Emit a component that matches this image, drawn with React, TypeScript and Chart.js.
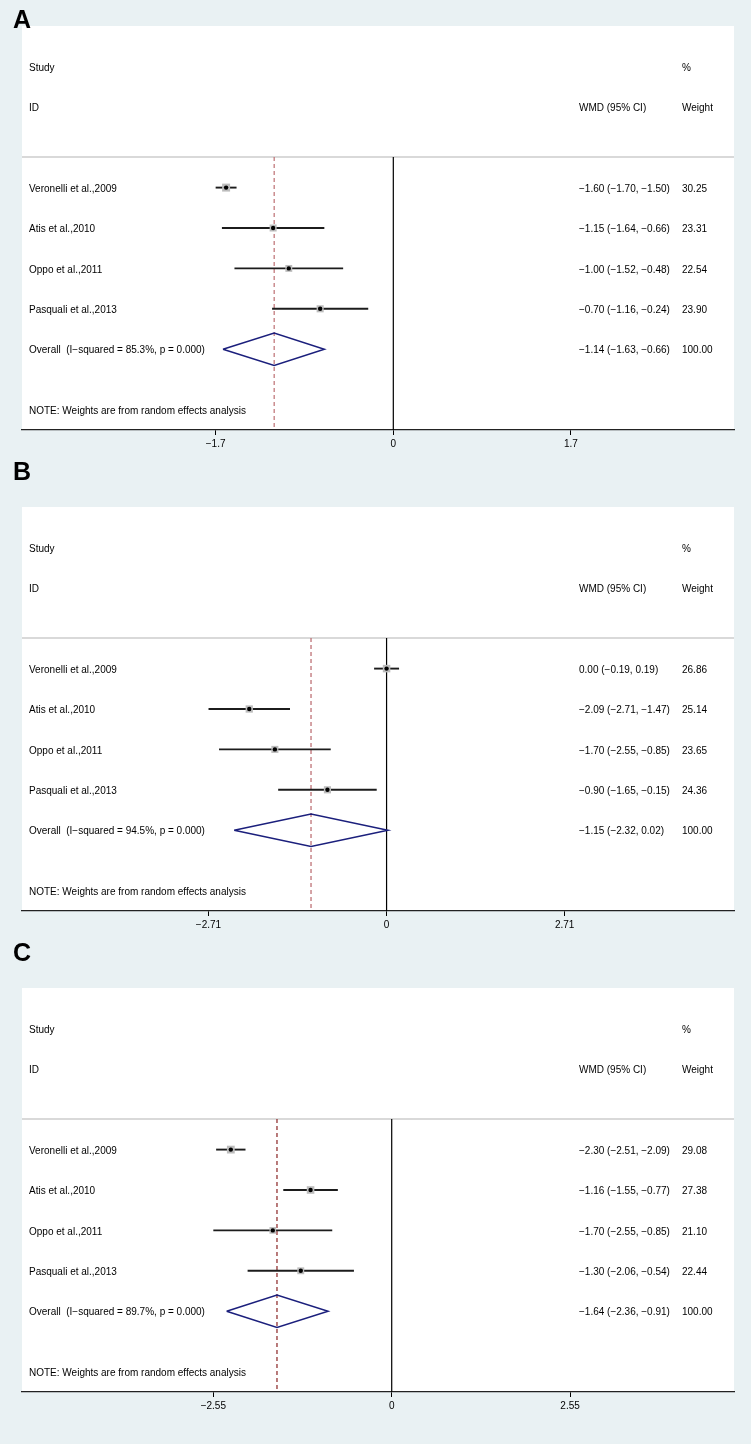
import React, { useEffect, useRef } from 'react';
import { Chart, registerables } from 'chart.js';

Chart.register(...registerables);

// ---------- Data ----------
const studies = ['Veronelli et al.,2009', 'Atis et al.,2010', 'Oppo et al.,2011', 'Pasquali et al.,2013'];

const estA = [-1.6, -1.15, -1.0, -0.7];
const lowA = [-1.7, -1.64, -1.52, -1.16];
const highA = [-1.5, -0.66, -0.48, -0.24];
const weightA = [30.25, 23.31, 22.54, 23.9];
const overallA = [-1.14, -1.63, -0.66];
const i2A = '85.3%';
const ticksA = [-1.7, 0, 1.7];

const estB = [0.0, -2.09, -1.7, -0.9];
const lowB = [-0.19, -2.71, -2.55, -1.65];
const highB = [0.19, -1.47, -0.85, -0.15];
const weightB = [26.86, 25.14, 23.65, 24.36];
const overallB = [-1.15, -2.32, 0.02];
const i2B = '94.5%';
const ticksB = [-2.71, 0, 2.71];

const estC = [-2.3, -1.16, -1.7, -1.3];
const lowC = [-2.51, -1.55, -2.55, -2.06];
const highC = [-2.09, -0.77, -0.85, -0.54];
const weightC = [29.08, 27.38, 21.1, 22.44];
const overallC = [-1.64, -2.36, -0.91];
const i2C = '89.7%';
const ticksC = [-2.55, 0, 2.55];

// ---------- Styling ----------
const BG = '#e9f1f3';
const FONT = '"Liberation Sans", Arial, Helvetica, sans-serif';
const NAVY = '#1b1f7c';
const PANEL_H = 481;

type PanelCfg = {
  letter: string;
  est: number[];
  low: number[];
  high: number[];
  weight: number[];
  overall: number[];
  i2: string;
  ticks: number[];
  xMin: number;
  xMax: number;
  dash: string;
  letterTop: number;
};

const panels: PanelCfg[] = [
  { letter: 'A', est: estA, low: lowA, high: highA, weight: weightA, overall: overallA, i2: i2A, ticks: ticksA, xMin: -3.553, xMax: 3.26, dash: '#bd6f73', letterTop: 7 },
  { letter: 'B', est: estB, low: lowB, high: highB, weight: weightB, overall: overallB, i2: i2B, ticks: ticksB, xMin: -5.549, xMax: 5.288, dash: '#b9666b', letterTop: 459 },
  { letter: 'C', est: estC, low: lowC, high: highC, weight: weightC, overall: overallC, i2: i2C, ticks: ticksC, xMin: -5.285, xMax: 4.893, dash: '#8a2323', letterTop: 940 },
];

const fmt = (v: number) => (v < 0 ? '\u2212' : '') + Math.abs(v).toFixed(2);
const tickFmt = (v: number) => (v === 0 ? '0' : (v < 0 ? '\u2212' : '') + String(Math.abs(v)));

const HEADER_ROW = 0.24;
const OVERALL_ROW = 5;
const NOTE_ROW = 6.5;
const TEXT_DY = 1.5;

function Panel({ cfg, top }: { cfg: PanelCfg; top: number }) {
  const ref = useRef<HTMLCanvasElement | null>(null);

  useEffect(() => {
    const canvas = ref.current;
    if (!canvas) return;
    const [oEst, oLo, oHi] = cfg.overall;
    const pts = cfg.est.map((e, i) => ({ x: e, y: i + 1 }));

    const datasets: any[] = [
      {
        type: 'scatter',
        data: pts,
        pointStyle: 'circle',
        pointRadius: 2.2,
        backgroundColor: '#000',
        borderWidth: 0,
        order: 0,
      },
      {
        type: 'line',
        data: [
          { x: oLo, y: OVERALL_ROW },
          { x: oEst, y: OVERALL_ROW - 0.4 },
          { x: oHi, y: OVERALL_ROW },
          { x: oEst, y: OVERALL_ROW + 0.4 },
          { x: oLo, y: OVERALL_ROW },
        ],
        borderColor: NAVY,
        borderWidth: 1.5,
        pointRadius: 0,
        fill: false,
        tension: 0,
        order: 0,
      },
      {
        type: 'scatter',
        data: pts,
        pointStyle: 'rect',
        pointRadius: cfg.weight.map((w) => (1.45 * Math.sqrt(w)) / Math.SQRT2),
        backgroundColor: '#bcbcbc',
        borderWidth: 0,
        order: 1,
      },
      ...cfg.est.map((_, i) => ({
        type: 'line',
        data: [
          { x: cfg.low[i], y: i + 1 },
          { x: cfg.high[i], y: i + 1 },
        ],
        borderColor: '#1c1c1c',
        borderWidth: 1.9,
        pointRadius: 0,
        order: 2,
      })),
      {
        type: 'line',
        data: [
          { x: oEst, y: HEADER_ROW },
          { x: oEst, y: 7 },
        ],
        borderColor: cfg.dash,
        borderWidth: 1.2,
        borderDash: [4, 3],
        pointRadius: 0,
        order: 4,
      },
      {
        type: 'line',
        data: [
          { x: 0, y: HEADER_ROW },
          { x: 0, y: 7 },
        ],
        borderColor: '#000',
        borderWidth: 1.2,
        pointRadius: 0,
        order: 5,
      },
    ];

    const textPlugin = {
      id: 'forestText' + cfg.letter,
      beforeDraw(chart: any) {
        const { ctx, chartArea, width, height } = chart;
        ctx.save();
        ctx.fillStyle = BG;
        ctx.fillRect(0, 0, width, height);
        ctx.fillStyle = '#fff';
        ctx.fillRect(chartArea.left, chartArea.top, chartArea.right - chartArea.left, chartArea.bottom - chartArea.top);
        ctx.restore();
      },
      beforeDatasetsDraw(chart: any) {
        const { ctx, chartArea, scales } = chart;
        const y = scales.y.getPixelForValue(HEADER_ROW);
        ctx.save();
        ctx.strokeStyle = '#cdcdcd';
        ctx.lineWidth = 1.5;
        ctx.beginPath();
        ctx.moveTo(chartArea.left, y);
        ctx.lineTo(chartArea.right, y);
        ctx.stroke();
        ctx.restore();
      },
      afterDraw(chart: any) {
        const { ctx, scales } = chart;
        const ys = scales.y;
        const py = (r: number) => ys.getPixelForValue(r) + TEXT_DY;
        const COL_STUDY = 29;
        const COL_CI = 579;
        const COL_W = 682;
        ctx.save();
        ctx.font = `10px ${FONT}`;
        ctx.fillStyle = '#000';
        ctx.textBaseline = 'middle';
        ctx.textAlign = 'left';
        ctx.fillText('Study', COL_STUDY, py(-2));
        ctx.fillText('ID', COL_STUDY, py(-1));
        ctx.fillText('%', COL_W, py(-2));
        ctx.fillText('WMD (95% CI)', COL_CI, py(-1));
        ctx.fillText('Weight', COL_W, py(-1));
        studies.forEach((s, i) => {
          const yy = py(i + 1);
          ctx.fillText(s, COL_STUDY, yy);
          ctx.fillText(`${fmt(cfg.est[i])} (${fmt(cfg.low[i])}, ${fmt(cfg.high[i])})`, COL_CI, yy);
          ctx.fillText(cfg.weight[i].toFixed(2), COL_W, yy);
        });
        const yo = py(OVERALL_ROW);
        ctx.fillText(`Overall  (I\u2212squared = ${cfg.i2}, p = 0.000)`, COL_STUDY, yo);
        ctx.fillText(`${fmt(oEst)} (${fmt(oLo)}, ${fmt(oHi)})`, COL_CI, yo);
        ctx.fillText((100).toFixed(2), COL_W, yo);
        ctx.fillText('NOTE: Weights are from random effects analysis', COL_STUDY, py(NOTE_ROW));
        ctx.restore();
      },
    };

    const chart = new Chart(canvas, {
      type: 'scatter',
      data: { datasets },
      options: {
        animation: false,
        responsive: false,
        maintainAspectRatio: false,
        devicePixelRatio: 1,
        events: [],
        layout: { padding: { left: 22, right: 17, top: 26, bottom: 31 } },
        plugins: { legend: { display: false }, tooltip: { enabled: false } },
        scales: {
          x: {
            type: 'linear',
            position: 'bottom',
            min: cfg.xMin,
            max: cfg.xMax,
            afterBuildTicks: (scale: any) => {
              scale.ticks = cfg.ticks.map((v) => ({ value: v }));
            },
            afterFit: (scale: any) => {
              scale.height = 20;
            },
            grid: {
              display: true,
              drawOnChartArea: false,
              drawTicks: true,
              tickLength: 5,
              tickColor: '#000',
              tickWidth: 1,
            },
            border: { display: true, color: '#222', width: 1.3 },
            ticks: {
              autoSkip: false,
              maxRotation: 0,
              padding: 3,
              color: '#000',
              font: { family: FONT, size: 10 },
              callback: (v: any) => tickFmt(Number(v)),
            },
          },
          y: {
            type: 'linear',
            display: false,
            min: -3,
            max: 7,
            reverse: true,
          },
        },
      },
      plugins: [textPlugin],
    } as any);

    return () => chart.destroy();
  }, [cfg]);

  return (
    <canvas
      ref={ref}
      width={751}
      height={PANEL_H}
      style={{ position: 'absolute', left: 0, top, width: 751, height: PANEL_H, display: 'block' }}
    />
  );
}

export default function App() {
  useEffect(() => {
    document.body.style.margin = '0';
    document.body.style.background = BG;
  }, []);

  return (
    <div style={{ position: 'relative', width: 751, height: 1444, background: BG, overflow: 'hidden' }}>
      {panels.map((p, i) => (
        <Panel key={p.letter} cfg={p} top={i * PANEL_H} />
      ))}
      {panels.map((p) => (
        <div
          key={'L' + p.letter}
          style={{
            position: 'absolute',
            left: 13,
            top: p.letterTop,
            fontFamily: FONT,
            fontWeight: 'bold',
            fontSize: 25,
            lineHeight: '25px',
            color: '#000',
            zIndex: 2,
          }}
        >
          {p.letter}
        </div>
      ))}
    </div>
  );
}
